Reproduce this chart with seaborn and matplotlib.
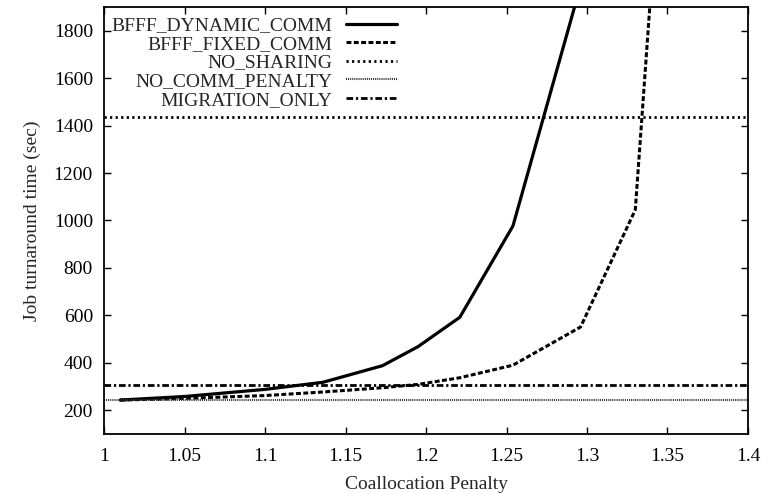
import matplotlib
matplotlib.use("Agg")
import matplotlib.pyplot as plt
import seaborn as sns
import pandas as pd

# ---- data ----
dyn_x = [1.01, 1.05, 1.10, 1.136, 1.173, 1.195, 1.221, 1.254, 1.296]
dyn_y = [243, 258, 288, 318, 388, 468, 592, 977, 1990]
fix_x = [1.01, 1.05, 1.10, 1.136, 1.173, 1.195, 1.221, 1.254, 1.296, 1.330, 1.345]
fix_y = [243, 250, 262, 277, 295, 309, 337, 390, 551, 1045, 2470]
no_sharing = 1435
no_comm_penalty = 243
migration_only = 307

labels = ["BFFF_DYNAMIC_COMM", "BFFF_FIXED_COMM", "NO_SHARING",
          "NO_COMM_PENALTY", "MIGRATION_ONLY"]
x_ticks = [1, 1.05, 1.1, 1.15, 1.2, 1.25, 1.3, 1.35, 1.4]
x_ticklabels = ["1", "1.05", "1.1", "1.15", "1.2", "1.25", "1.3", "1.35", "1.4"]
y_ticks = [200, 400, 600, 800, 1000, 1200, 1400, 1600, 1800]

sns.set_theme(style="ticks")
plt.rcParams["font.family"] = ["Liberation Serif", "DejaVu Serif"]
plt.rcParams["font.size"] = 14

fig = plt.figure(figsize=(7.74, 4.94), dpi=100)
ax = fig.add_axes([0.1344, 0.1215, 0.832, 0.8643])

df_dyn = pd.DataFrame({"x": dyn_x, "y": dyn_y})
df_fix = pd.DataFrame({"x": fix_x, "y": fix_y})

sns.lineplot(data=df_dyn, x="x", y="y", ax=ax, color="black", lw=2.3,
             estimator=None, sort=False, label=labels[0])
l_dyn = ax.lines[-1]
sns.lineplot(data=df_fix, x="x", y="y", ax=ax, color="black", lw=2.2,
             estimator=None, sort=False, label=labels[1])
l_fix = ax.lines[-1]
l_fix.set_dashes([1.6, 0.8])

l_ns = ax.axhline(no_sharing, color="black", lw=2.0, label=labels[2])
l_ns.set_dashes([0.8, 1.2])
l_ncp = ax.axhline(no_comm_penalty, color="#333333", lw=1.5, label=labels[3])
l_ncp.set_dashes([0.5, 0.5])
l_mig = ax.axhline(migration_only, color="black", lw=2.0, label=labels[4])
l_mig.set_dashes([2.4, 1.0, 0.8, 1.0])

ax.set_xlim(1, 1.4)
ax.set_ylim(100, 1900)
ax.set_xticks(x_ticks)
ax.set_xticklabels(x_ticklabels)
ax.set_yticks(y_ticks)
ax.tick_params(direction="in", length=5, width=1, top=True, right=True,
               labelsize=14, colors="black")
ax.tick_params(axis="x", pad=10)
ax.tick_params(axis="y", pad=8)
for s in ax.spines.values():
    s.set_linewidth(1.3)
    s.set_color("black")
    s.set_visible(True)

ax.set_xlabel("Coallocation Penalty", fontsize=14, labelpad=8)
ax.set_ylabel("Job turnaround time (sec)", fontsize=14, labelpad=9)

handles = [l_dyn, l_fix, l_ns, l_ncp, l_mig]
leg = ax.legend(handles, labels, loc="upper right",
                bbox_to_anchor=(0.455, 0.977), frameon=False,
                markerfirst=False, fontsize=14, handlelength=2.6,
                handletextpad=0.75, labelspacing=0.05, borderpad=0.0,
                borderaxespad=0)
try:
    for col in leg._legend_box.get_children()[1].get_children():
        col.align = "right"
except Exception:
    pass

fig.savefig("out.png", dpi=100)
